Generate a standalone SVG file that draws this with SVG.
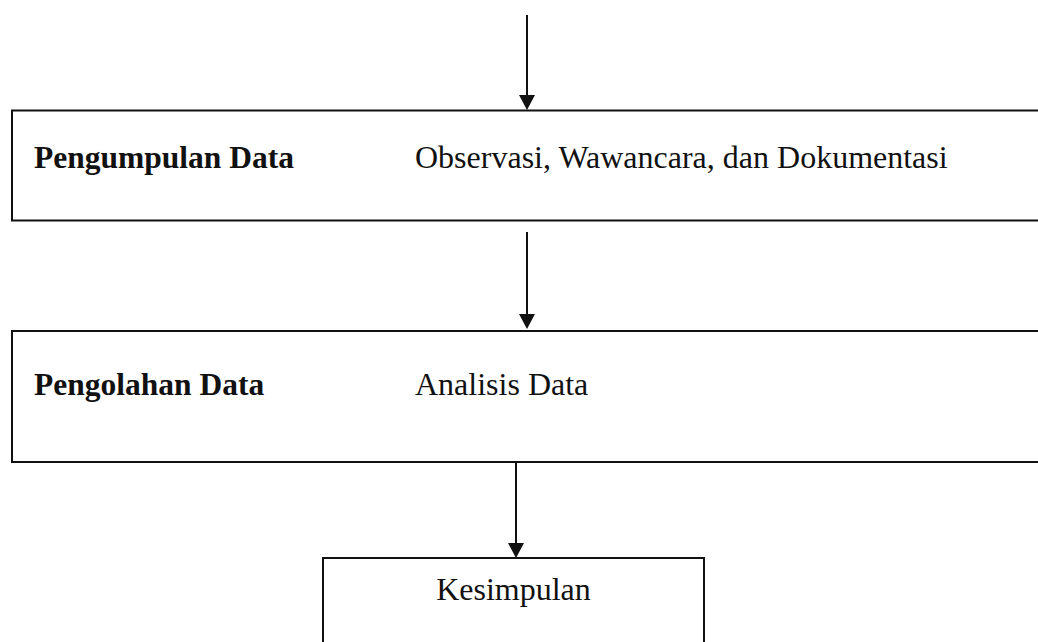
<svg xmlns="http://www.w3.org/2000/svg" width="1038" height="642" viewBox="0 0 1038 642">
<style>
.box{fill:#fff;stroke:#111;stroke-width:2}
.line{stroke:#111;stroke-width:2;fill:none}
.head{fill:#111}
text{font-family:"Liberation Serif","Times New Roman",serif;font-size:32px;fill:#111}
.b{font-weight:bold;font-size:31.5px}
</style>
<rect width="1038" height="642" fill="#fff"/>
<g id="connectors">
<line class="line" x1="527" y1="15" x2="527" y2="96"/>
<polygon class="head" points="519,95 535,95 527,110"/>
<line class="line" x1="527" y1="232" x2="527" y2="315"/>
<polygon class="head" points="519,314 535,314 527,329"/>
<line class="line" x1="516" y1="462" x2="516" y2="544"/>
<polygon class="head" points="508,543 524,543 516,558"/>
</g>
<g id="pengumpulan">
<rect class="box" x="12" y="110.5" width="1040" height="110"/>
<text class="b" x="34" y="168">Pengumpulan Data</text>
<text x="415" y="168">Observasi, Wawancara, dan Dokumentasi</text>
</g>
<g id="pengolahan">
<rect class="box" x="12" y="331" width="1040" height="131"/>
<text class="b" x="34" y="395">Pengolahan Data</text>
<text x="415" y="395">Analisis Data</text>
</g>
<g id="kesimpulan">
<rect class="box" x="323" y="558" width="381" height="100"/>
<text x="513.5" y="600" text-anchor="middle">Kesimpulan</text>
</g>
</svg>
